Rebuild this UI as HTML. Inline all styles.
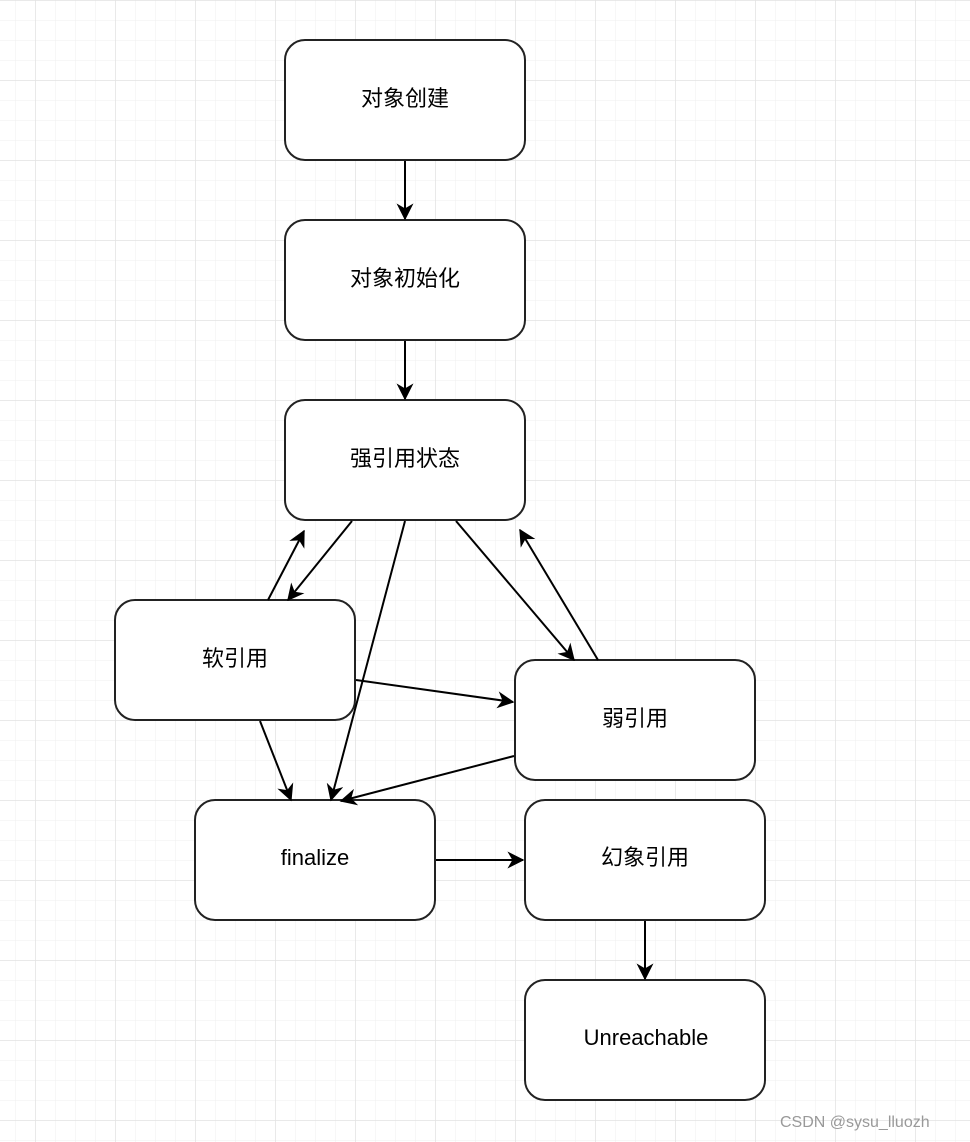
<!DOCTYPE html>
<html><head><meta charset="utf-8"><style>
html,body{margin:0;padding:0;background:#fff;}
svg{display:block}
text{font-family:"Liberation Sans","Noto Sans CJK SC",sans-serif;font-size:22px;fill:#000;}
</style></head><body>
<svg width="970" height="1142" viewBox="0 0 970 1142" xmlns="http://www.w3.org/2000/svg">
<defs>
<pattern id="minor" x="15" y="0" width="20" height="20" patternUnits="userSpaceOnUse">
<path d="M0 0H20M0 0V20" stroke="#efefef" stroke-width="1" fill="none"/>
</pattern>
<pattern id="major" x="35" y="0" width="80" height="80" patternUnits="userSpaceOnUse">
<path d="M0 0H80M0 0V80" stroke="#e2e2e2" stroke-width="1.5" fill="none"/>
</pattern>
<marker id="b" viewBox="0 0 12 12" refX="11" refY="6" markerWidth="17" markerHeight="17" orient="auto" markerUnits="userSpaceOnUse">
<path d="M0 0L12 6L0 12L3.5 6Z" fill="#000"/>
</marker>
</defs>
<rect width="970" height="1142" fill="url(#minor)"/>
<rect width="970" height="1142" fill="url(#major)"/>
<g fill="#fff" stroke="#222" stroke-width="2">
<rect x="285" y="40" width="240" height="120" rx="20"/>
<rect x="285" y="220" width="240" height="120" rx="20"/>
<rect x="285" y="400" width="240" height="120" rx="20"/>
<rect x="115" y="600" width="240" height="120" rx="20"/>
<rect x="515" y="660" width="240" height="120" rx="20"/>
<rect x="195" y="800" width="240" height="120" rx="20"/>
<rect x="525" y="800" width="240" height="120" rx="20"/>
<rect x="525" y="980" width="240" height="120" rx="20"/>
</g>
<g stroke="#000" stroke-width="2" fill="none" marker-end="url(#b)">
<line x1="405" y1="161" x2="405" y2="219"/>
<line x1="405" y1="341" x2="405" y2="399"/>
<line x1="268" y1="600" x2="304" y2="531"/>
<line x1="352" y1="521" x2="288" y2="600"/>
<line x1="405" y1="521" x2="331" y2="800"/>
<line x1="456" y1="521" x2="574" y2="660"/>
<line x1="598" y1="660" x2="520" y2="530"/>
<line x1="356" y1="680" x2="513" y2="702"/>
<line x1="260" y1="721" x2="291" y2="800"/>
<line x1="514" y1="756" x2="341" y2="801"/>
<line x1="436" y1="860" x2="523" y2="860"/>
<line x1="645" y1="921" x2="645" y2="979"/>
</g>
<g text-anchor="middle">
<text x="405" y="106">对象创建</text>
<text x="405" y="286">对象初始化</text>
<text x="405" y="466">强引用状态</text>
<text x="235" y="666">软引用</text>
<text x="635" y="726">弱引用</text>
<text x="315" y="865">finalize</text>
<text x="645" y="865">幻象引用</text>
<text x="646" y="1045">Unreachable</text>
</g>
<text x="780" y="1127" style="font-size:16px;fill:#999">CSDN @sysu_lluozh</text>
</svg>
</body></html>
